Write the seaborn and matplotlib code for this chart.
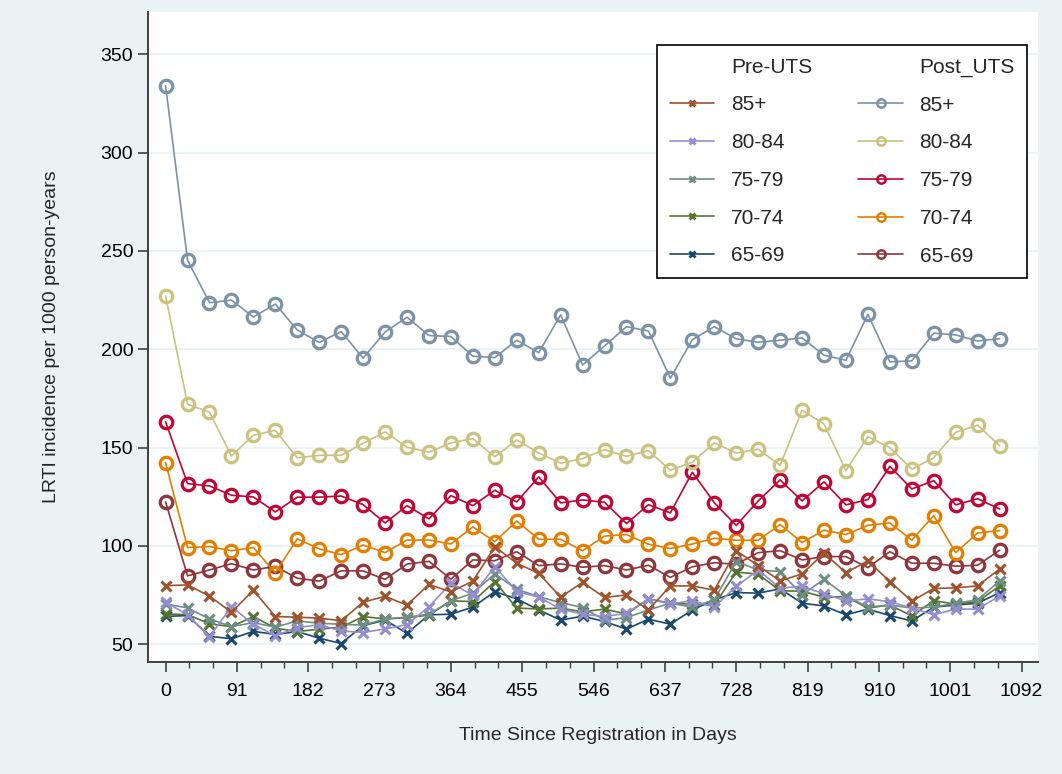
import matplotlib
matplotlib.use("Agg")
import matplotlib.pyplot as plt
import seaborn as sns
import pandas as pd
from matplotlib.lines import Line2D
from matplotlib.ticker import FixedLocator

# ---------------- data ----------------
days = [0, 28, 56, 84, 112, 140, 168, 196, 224, 252, 280, 308, 336, 364, 392,
        420, 448, 476, 504, 532, 560, 588, 616, 644, 672, 700, 728, 756, 784,
        812, 840, 868, 896, 924, 952, 980, 1008, 1036, 1064]

x_ticks = [0, 91, 182, 273, 364, 455, 546, 637, 728, 819, 910, 1001, 1092]
y_ticks = [50, 100, 150, 200, 250, 300, 350]

age_groups = ["85+", "80-84", "75-79", "70-74", "65-69"]

pre_85 = [79.8, 80.2, 74.5, 66.3, 77.5, 64.1, 63.8, 63.3, 62.0, 71.4, 74.4, 69.9, 80.5,
          76.6, 82.2, 99.6, 91.2, 86.1, 74.0, 81.5, 73.8, 75.1, 67.5, 79.7, 79.7, 77.5,
          97.6, 90.0, 82.2, 85.8, 96.3, 86.4, 92.4, 81.9, 71.9, 78.4, 78.7, 79.7, 88.3]
pre_80 = [71.4, 65.0, 53.9, 69.1, 60.2, 54.3, 58.5, 60.0, 56.8, 56.0, 57.8, 60.0, 69.1,
          81.1, 75.0, 89.5, 76.8, 74.0, 67.9, 65.3, 64.1, 65.8, 73.1, 70.5, 72.2, 69.1,
          79.4, 87.8, 78.5, 79.6, 75.6, 72.1, 73.1, 71.7, 68.4, 65.0, 67.9, 67.9, 74.6]
pre_75 = [70.5, 68.5, 62.9, 59.0, 61.0, 58.7, 61.9, 60.7, 60.2, 59.7, 62.9, 63.8, 65.3,
          72.1, 76.0, 85.8, 78.0, 74.2, 71.2, 68.7, 62.3, 63.5, 67.5, 70.9, 68.9, 72.6,
          92.1, 87.8, 87.0, 75.1, 83.1, 74.6, 68.9, 70.0, 68.4, 68.9, 70.9, 72.6, 82.2]
pre_70 = [65.4, 65.1, 60.4, 59.0, 64.1, 58.2, 56.5, 57.7, 58.7, 64.1, 62.9, 63.5, 64.9,
          72.1, 71.7, 81.9, 68.4, 68.0, 68.4, 66.5, 67.9, 65.4, 73.1, 70.9, 70.4, 70.0,
          86.7, 85.7, 77.2, 77.0, 74.0, 74.2, 68.4, 70.0, 64.4, 72.2, 70.4, 71.7, 79.7]
pre_65 = [64.2, 64.6, 54.1, 52.8, 56.6, 55.0, 56.5, 53.1, 50.4, 59.5, 62.3, 55.6, 65.0,
          65.3, 68.9, 76.8, 73.1, 67.5, 62.3, 64.3, 61.6, 57.7, 62.8, 60.2, 67.5, 72.6,
          76.3, 76.0, 78.2, 70.9, 69.5, 65.0, 67.9, 64.6, 61.9, 68.9, 70.0, 70.9, 76.3]

post_85 = [334.0, 245.3, 223.7, 225.0, 216.4, 223.0, 209.8, 203.5, 209.0, 195.5, 208.8,
           216.3, 207.0, 206.5, 196.5, 195.8, 204.6, 198.3, 217.5, 192.0, 201.7, 211.5,
           209.3, 185.3, 204.9, 211.5, 205.3, 203.6, 204.6, 205.8, 197.0, 194.4, 217.8,
           193.6, 194.1, 208.2, 207.3, 204.2, 205.4]
post_80 = [227.1, 172.1, 168.0, 145.8, 156.3, 158.8, 144.8, 146.1, 146.1, 152.2, 158.0,
           150.2, 147.7, 152.4, 154.6, 145.3, 153.9, 147.3, 142.1, 144.4, 149.0, 145.6,
           148.5, 138.5, 142.6, 152.4, 147.3, 149.2, 141.0, 169.0, 162.0, 138.3, 155.6,
           150.0, 139.0, 144.9, 157.8, 161.4, 151.0]
post_75 = [163.1, 131.7, 130.5, 125.8, 124.9, 117.3, 124.8, 124.8, 125.4, 121.0, 111.7,
           120.5, 113.8, 125.6, 120.5, 128.3, 122.4, 135.1, 121.9, 123.4, 122.2, 111.4,
           121.0, 116.8, 137.5, 122.0, 110.4, 122.9, 133.6, 122.9, 132.6, 120.9, 123.6,
           140.5, 129.0, 133.2, 120.9, 124.0, 118.8]
post_70 = [142.4, 99.2, 99.7, 97.6, 99.2, 86.3, 103.6, 98.5, 95.6, 100.5, 96.6, 103.0,
           103.0, 101.0, 109.7, 102.2, 112.7, 103.4, 103.4, 97.6, 105.0, 105.8, 100.9,
           98.7, 101.0, 103.9, 102.9, 102.9, 110.9, 101.7, 108.0, 105.8, 110.5, 111.7,
           103.0, 115.4, 96.6, 106.6, 107.8]
post_65 = [122.4, 84.8, 87.8, 91.0, 87.8, 89.6, 83.6, 82.1, 87.4, 87.3, 83.0, 90.8, 92.2,
           83.1, 92.9, 92.5, 97.1, 90.0, 90.9, 89.2, 90.0, 87.8, 90.2, 84.0, 89.4, 91.5,
           90.7, 96.6, 97.6, 92.9, 94.6, 94.6, 89.0, 97.1, 91.2, 91.2, 89.7, 90.2, 97.8]

pre_series = [pre_85, pre_80, pre_75, pre_70, pre_65]
post_series = [post_85, post_80, post_75, post_70, post_65]

pre_colors = ["#a0522d", "#938dd2", "#6e8e84", "#55752f", "#1a476f"]
post_colors = ["#7b92a8", "#cac27e", "#c10534", "#e37e00", "#90353b"]

# ---------------- style ----------------
sns.set_theme(style="white")
plt.rcParams["font.family"] = ["Liberation Sans", "DejaVu Sans"]

BG = "#eaf2f3"
fig = plt.figure(figsize=(10.62, 7.74), dpi=100, facecolor=BG)
ax = fig.add_axes([0.1394, 0.1447, 0.838, 0.8398])
ax.set_facecolor("white")

# grid lines
for yt in y_ticks:
    ax.axhline(yt, color=BG, lw=1.3, zorder=0)

# draw series (Stata order: 65-69 first, then upward)
for i in range(4, -1, -1):
    df_pre = pd.DataFrame({"days": days, "rate": pre_series[i]})
    sns.lineplot(data=df_pre, x="days", y="rate", ax=ax, color=pre_colors[i],
                 linewidth=1.2, marker="x", markersize=7,
                 markeredgewidth=2.2, markeredgecolor=pre_colors[i], zorder=3)
    df_post = pd.DataFrame({"days": days, "rate": post_series[i]})
    sns.lineplot(data=df_post, x="days", y="rate", ax=ax, color=post_colors[i],
                 linewidth=1.2, marker="o", markersize=9, markerfacecolor="none",
                 markeredgewidth=2.3, markeredgecolor=post_colors[i], zorder=3)

ax.set_xlim(-22.4, 1113)
ax.set_ylim(41, 371.5)

ax.xaxis.set_major_locator(FixedLocator(x_ticks))
ax.set_xticklabels([str(t) for t in x_ticks])
minor = [t + k * 91 / 3 for t in x_ticks[:-1] for k in (1, 2)]
ax.xaxis.set_minor_locator(FixedLocator(minor))
ax.yaxis.set_major_locator(FixedLocator(y_ticks))
ax.set_yticklabels([str(t) for t in y_ticks])

for s in ["top", "right"]:
    ax.spines[s].set_visible(False)
for s in ["left", "bottom"]:
    ax.spines[s].set_color("#404040")
    ax.spines[s].set_linewidth(1.4)

ax.tick_params(axis="both", which="major", direction="out", length=7.2, width=1.2,
               color="#404040", labelsize=14, labelcolor="black")
ax.tick_params(axis="x", which="major", pad=8, bottom=True)
ax.tick_params(axis="y", which="major", pad=3.5, left=True)
ax.tick_params(axis="x", which="minor", direction="out", length=4.3, width=1.0,
               color="#404040", bottom=True)

ax.set_xlabel("Time Since Registration in Days", fontsize=14)
ax.set_ylabel("LRTI incidence per 1000 person-years", fontsize=14)
ax.xaxis.set_label_coords(0.505, -0.1)
ax.yaxis.set_label_coords(-0.099, 0.5)

# legend
handles = [Line2D([], [], color="none", label="Pre-UTS")]
for c, g in zip(pre_colors, age_groups):
    handles.append(Line2D([], [], color=c, lw=1.2, marker="x", markersize=5,
                          markeredgewidth=2, label=g))
handles.append(Line2D([], [], color="none", label="Post_UTS"))
for c, g in zip(post_colors, age_groups):
    handles.append(Line2D([], [], color=c, lw=1.2, marker="o", markersize=6,
                          markerfacecolor="none", markeredgewidth=1.8, label=g))

leg = ax.legend(handles=handles, ncol=2, loc="upper left",
                bbox_to_anchor=(0.572, 0.949), borderaxespad=0,
                fontsize=15, frameon=True, fancybox=False, handlelength=2.15,
                handletextpad=0.8, columnspacing=2.2, labelspacing=0.9,
                borderpad=0.6)
leg.get_frame().set_edgecolor("black")
leg.get_frame().set_linewidth(1.2)
leg.get_frame().set_facecolor("white")
leg.get_frame().set_alpha(1)

fig.savefig("out.png", dpi=100, facecolor=BG)
